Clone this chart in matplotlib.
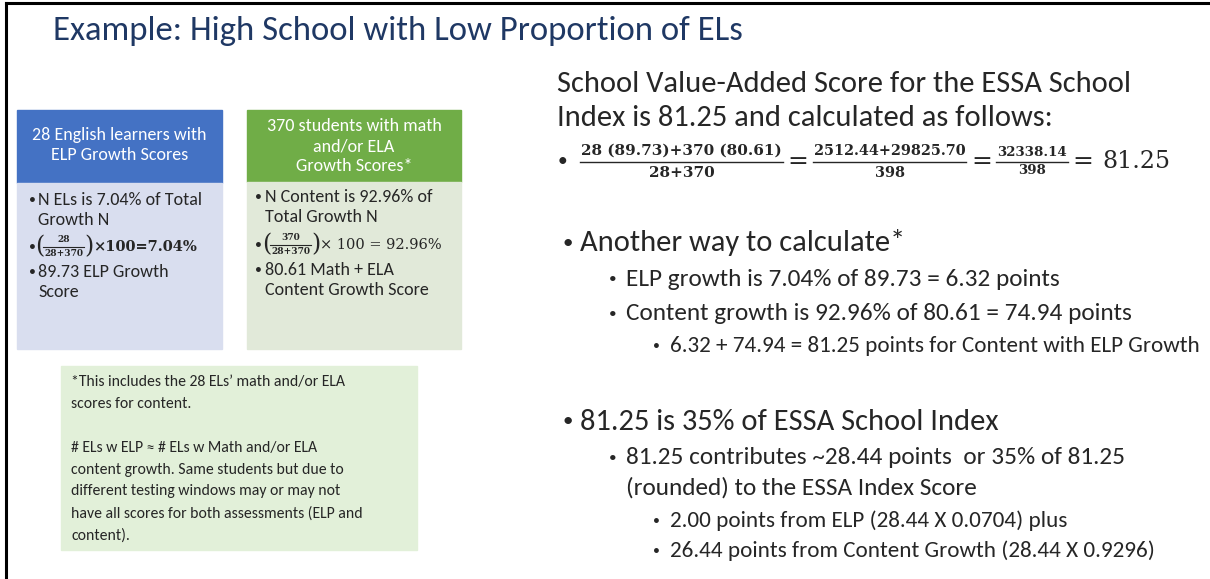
import matplotlib.pyplot as plt
from matplotlib.patches import Rectangle

FONT = ['Carlito', 'Lato', 'DejaVu Sans']
MATH = ['DejaVu Serif']
INK = '#262626'

title = 'Example: High School with Low Proportion of ELs'

el_header = ['28 English learners with', 'ELP Growth Scores']
# (has_bullet, text); None marks the fraction line
el_lines = [(True, 'N ELs is 7.04% of Total'), (False, 'Growth N'), (True, None),
            (True, '89.73 ELP Growth'), (False, 'Score')]
el_frac = ('28', '28+370', '\u00d7100=7.04%')

ct_header = ['370 students with math', 'and/or ELA', 'Growth Scores*']
ct_lines = [(True, 'N Content is 92.96% of'), (False, 'Total Growth N'), (True, None),
            (True, '80.61 Math + ELA'), (False, 'Content Growth Score')]
ct_frac = ('370', '28+370', '\u00d7 100 = 92.96%')

note_lines = ['*This includes the 28 ELs\u2019 math and/or ELA',
              'scores for content.',
              '',
              '# ELs w ELP \u2248 # ELs w Math and/or ELA',
              'content growth. Same students but due to',
              'different testing windows may or may not',
              'have all scores for both assessments (ELP and',
              'content).']

intro = ['School Value-Added Score for the ESSA School',
         'Index is 81.25 and calculated as follows:']
formula = [('28 (89.73)+370 (80.61)', '28+370'),
           ('2512.44+29825.70', '398'),
           ('32338.14', '398')]
formula_sizes = [11.0, 10.4, 9.6]
result = '81.25'

# (level, text)
bullets = [(0, 'Another way to calculate*'),
           (1, 'ELP growth is 7.04% of 89.73 = 6.32 points'),
           (1, 'Content growth is 92.96% of 80.61 = 74.94 points'),
           (2, '6.32 + 74.94 = 81.25 points for Content with ELP Growth'),
           (0, '81.25 is 35% of ESSA School Index'),
           (1, '81.25 contributes ~28.44 points  or 35% of 81.25'),
           (1, '(rounded) to the ESSA Index Score'),
           (2, '2.00 points from ELP (28.44 X 0.0704) plus'),
           (2, '26.44 points from Content Growth (28.44 X 0.9296)')]
bullet_y = [243, 279, 314, 346, 422, 458, 488, 521, 551]

fig = plt.figure(figsize=(12.1, 5.79), dpi=100)
ax = fig.add_axes([0, 0, 1, 1])
ax.set_xlim(0, 1210)
ax.set_ylim(579, 0)
ax.axis('off')
renderer = fig.canvas.get_renderer()


def width(t):
    return t.get_window_extent(renderer).width


# slide frame
ax.plot([6, 1210], [3, 3], color='black', lw=2.2)
ax.plot([6, 6], [3, 579], color='black', lw=2.2)

ax.text(53, 31, title, fontsize=25, color='#1F3864', family=FONT, va='center')


def frac(x, y, num, den, size, gap_n=8, gap_d=9, weight='bold', lw=1.0):
    tn = ax.text(x, y - gap_n, num, fontsize=size, family=MATH, weight=weight,
                 ha='left', va='center', color=INK)
    td = ax.text(x, y + gap_d, den, fontsize=size, family=MATH, weight=weight,
                 ha='center', va='center', color=INK)
    w = max(width(tn), width(td)) + 2
    tn.set_x(x + (w - width(tn)) / 2)
    td.set_x(x + w / 2)
    ax.plot([x, x + w], [y + 0.5, y + 0.5], color=INK, lw=lw)
    return x + w


def box(x0, x1, head, body, lines, fr, head_bottom, ys, bx, tx, bold_tail):
    ax.add_patch(Rectangle((x0, 110), x1 - x0, head_bottom - 110, color=head))
    ax.add_patch(Rectangle((x0, head_bottom), x1 - x0, 349 - head_bottom, color=body))
    for (has_b, line), y in zip(lines, ys):
        if has_b:
            ax.text(bx, y, '\u2022', fontsize=10, family=FONT, va='center', color=INK)
        if line is None:
            ax.text(tx - 3, y, '(', fontsize=17, family=MATH, va='center', color=INK)
            end = frac(tx + 5, y - 1, fr[0], fr[1], size=6.5, gap_n=6, gap_d=7, lw=0.8)
            ax.text(end, y, ')', fontsize=17, family=MATH, va='center', color=INK)
            ax.text(end + 9, y, fr[2], fontsize=10.5, family=MATH, va='center', color=INK,
                    weight='bold' if bold_tail else 'normal')
        else:
            ax.text(tx, y, line, fontsize=13, family=FONT, va='center', color=INK)


box(17, 222, '#4472C4', '#D9DEEF', el_lines, el_frac, 183,
    [200, 220, 247, 272, 292], 29, 38, True)
box(247, 461, '#70AD47', '#E1E9D9', ct_lines, ct_frac, 182,
    [197, 217, 245, 270, 290], 255, 265, False)

for i, t in enumerate(el_header):
    ax.text(119.5, 135 + i * 20, t, fontsize=13, family=FONT, color='white', ha='center', va='center')
for i, t in enumerate(ct_header):
    ax.text(354, 126 + i * 20, t, fontsize=13, family=FONT, color='white', ha='center', va='center')

# note box
ax.add_patch(Rectangle((61, 366), 356, 184, color='#E2F0D9'))
for i, t in enumerate(note_lines):
    ax.text(71, 382 + i * 21.9, t, fontsize=11.3, family=FONT, va='center', color=INK)

# right side text
for i, t in enumerate(intro):
    ax.text(557, 84 + i * 34, t, fontsize=22, family=FONT, va='center', color=INK)

ax.text(558, 161, '\u2022', fontsize=14, family=FONT, va='center', color=INK)
fx = 580
for j, (num, den) in enumerate(formula):
    size = formula_sizes[j]
    fx = frac(fx, 161, num, den, size=size, gap_n=10 if j < 2 else 8, gap_d=12 if j < 2 else 9)
    ax.text(fx + 15, 162, '=', fontsize=18, family=MATH, ha='center', va='center', color=INK)
    fx += 30
ax.text(fx + 4, 162, result, fontsize=17, family=MATH, va='center', color=INK)

levels = {0: (562, 580, 22, 15), 1: (609, 626, 18.2, 11), 2: (653, 670, 16.7, 10)}
for (lvl, t), y in zip(bullets, bullet_y):
    bx, tx, fs, bs = levels[lvl]
    if not t.startswith('(rounded)'):
        ax.text(bx, y, '\u2022', fontsize=bs, family=FONT, va='center', color=INK)
    ax.text(tx, y, t, fontsize=fs, family=FONT, va='center', color=INK)

fig.savefig('out.png', dpi=100)
